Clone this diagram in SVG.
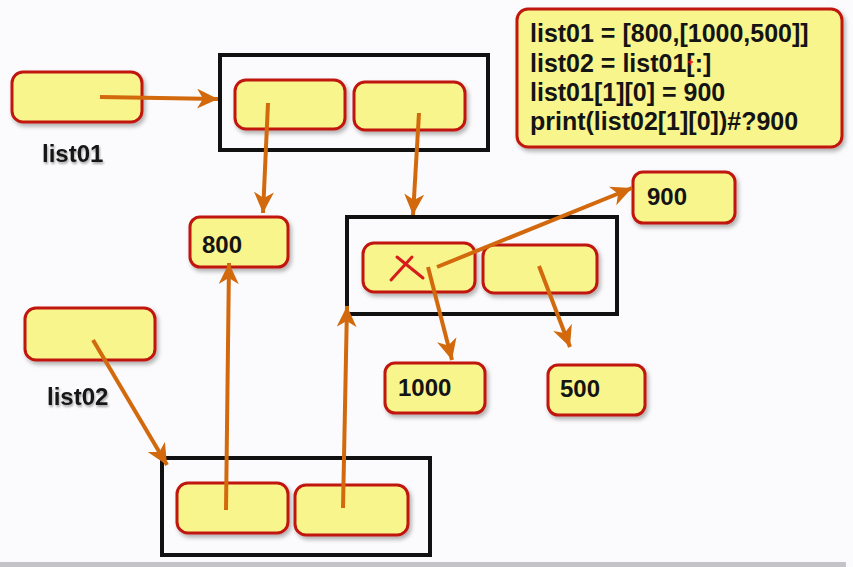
<svg xmlns="http://www.w3.org/2000/svg" width="853" height="567" viewBox="0 0 853 567">
<style>
.cell{fill:#f8f58c;stroke:#c0140f;stroke-width:3;filter:url(#sh)}
.box{fill:none;stroke:#111;stroke-width:4}
.t{font-family:"Liberation Sans",Arial,sans-serif;font-weight:bold;fill:#141414}
.val{font-size:24px}
.lbl{font-size:24px;filter:url(#tsh)}
.code{font-size:25px}
.arr{stroke:#d2690c;stroke-width:4;fill:none;marker-end:url(#ah)}
.x{stroke:#d81c1c;stroke-width:3;fill:none;stroke-linecap:round}
</style>
<defs>
<filter id="sh" x="-10%" y="-20%" width="130%" height="150%">
<feDropShadow dx="2" dy="3" stdDeviation="2" flood-color="#000" flood-opacity="0.3"/>
</filter>
<filter id="tsh" x="-10%" y="-20%" width="130%" height="150%">
<feDropShadow dx="1" dy="2" stdDeviation="1.2" flood-color="#000" flood-opacity="0.35"/>
</filter>
<marker id="ah" markerUnits="userSpaceOnUse" markerWidth="26" markerHeight="22" refX="21" refY="10" orient="auto">
<path d="M0,0 L21,10 L0,20 L6,10 Z" fill="#d2690c"/>
</marker>
</defs>
<rect width="853" height="567" fill="#fbfbfd"/>
<rect x="0" y="562" width="846" height="5" fill="#c4c4c8"/>

<g id="code">
<rect class="cell" x="517" y="9" width="325" height="138" rx="11"/>
<text class="t code" x="530" y="42">list01 = [800,[1000,500]]</text>
<text class="t code" x="530" y="72">list02 = list01[:]</text>
<text class="t code" x="530" y="101">list01[1][0] = 900</text>
<text class="t code" x="530" y="130">print(list02[1][0])#?900</text>
<path d="M688,62 L693,62 M690.5,59 L690.5,65" stroke="#d81c1c" stroke-width="1.5" fill="none"/>
</g>

<g id="list01">
<rect class="cell" x="12" y="72" width="130" height="50" rx="11"/>
<text class="t lbl" x="42" y="162">list01</text>
</g>

<g id="list01-obj">
<rect class="box" x="220" y="55" width="268" height="95"/>
<rect class="cell" x="235" y="80" width="110" height="49" rx="11"/>
<rect class="cell" x="354" y="82" width="111" height="48" rx="11"/>
</g>

<g id="n800">
<rect class="cell" x="190" y="217" width="98" height="50" rx="10"/>
<text class="t val" x="202" y="253">800</text>
</g>

<g id="inner-list">
<rect class="box" x="347" y="217" width="270" height="97"/>
<rect class="cell" x="363" y="243" width="112" height="49" rx="11"/>
<rect class="cell" x="483" y="245" width="114" height="48" rx="11"/>
<path class="x" d="M391,280 L412,257 M397,257 L423,278"/>
</g>

<g id="n900">
<rect class="cell" x="633" y="172" width="102" height="51" rx="10"/>
<text class="t val" x="647" y="205">900</text>
</g>

<g id="n1000">
<rect class="cell" x="385" y="363" width="100" height="50" rx="10"/>
<text class="t val" x="398" y="396">1000</text>
</g>

<g id="n500">
<rect class="cell" x="548" y="365" width="97" height="50" rx="10"/>
<text class="t val" x="560" y="397">500</text>
</g>

<g id="list02">
<rect class="cell" x="25" y="308" width="130" height="52" rx="11"/>
<text class="t lbl" x="47" y="405">list02</text>
</g>

<g id="list02-obj">
<rect class="box" x="162" y="458" width="268" height="97"/>
<rect class="cell" x="177" y="483" width="111" height="50" rx="11"/>
<rect class="cell" x="295" y="485" width="113" height="50" rx="11"/>
</g>

<g id="connectors">
<line class="arr" x1="100" y1="97" x2="218" y2="99"/>
<line class="arr" x1="268" y1="103" x2="263" y2="213"/>
<line class="arr" x1="419" y1="113" x2="413" y2="215"/>
<line class="arr" x1="437" y1="267" x2="632" y2="188"/>
<line class="arr" x1="428" y1="267" x2="452" y2="360"/>
<line class="arr" x1="539" y1="266" x2="570" y2="347"/>
<line class="arr" x1="93" y1="340" x2="167" y2="465"/>
<line class="arr" x1="226" y1="510" x2="229" y2="263"/>
<line class="arr" x1="343" y1="508" x2="347" y2="306"/>
</g>
</svg>
